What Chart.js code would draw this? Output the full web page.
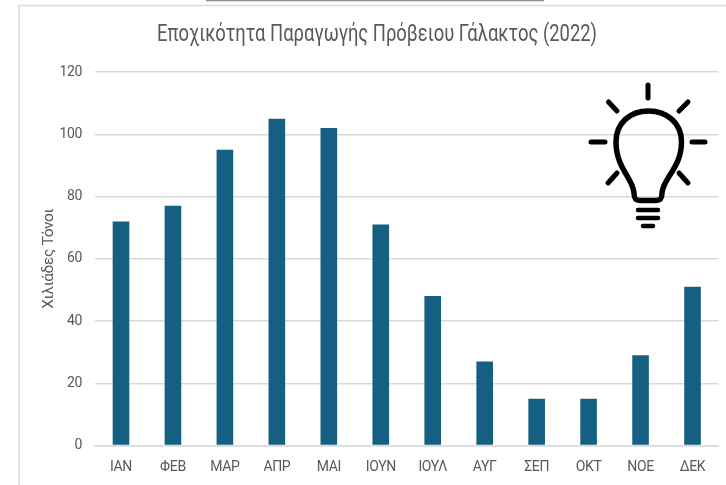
<!DOCTYPE html>
<html lang="el">
<head>
<meta charset="utf-8">
<title>Εποχικότητα Παραγωγής Πρόβειου Γάλακτος (2022)</title>
<script src="https://cdn.jsdelivr.net/npm/chart.js@4"></script>
<style>
  html, body { margin: 0; padding: 0; background: #fff; }
  #wrap { width: 726px; height: 485px; }
</style>
</head>
<body>
<div id="wrap"><canvas id="chart" width="726" height="485"></canvas></div>
<script>
// Δεδομένα
const months = ['ΙΑΝ', 'ΦΕΒ', 'ΜΑΡ', 'ΑΠΡ', 'ΜΑΙ', 'ΙΟΥΝ', 'ΙΟΥΛ', 'ΑΥΓ', 'ΣΕΠ', 'ΟΚΤ', 'ΝΟΕ', 'ΔΕΚ'];
const production = [72, 77, 95, 105, 102, 71, 48, 27, 15, 15, 29, 51];
const titleText = 'Εποχικότητα Παραγωγής Πρόβειου Γάλακτος (2022)';
const yAxisTitle = 'Χιλιάδες Τόνοι';

const FONT = 'Roboto, sans-serif';

// Πλαίσιο, στενός τίτλος και λάμπα (διακοσμητικά)
const decorations = {
  id: 'decorations',
  beforeDraw(chart) {
    const ctx = chart.ctx;
    ctx.save();
    ctx.strokeStyle = '#dcdcdc';
    ctx.lineWidth = 1.5;
    ctx.beginPath();
    ctx.moveTo(726, 5.5);
    ctx.lineTo(19, 5.5);
    ctx.lineTo(19, 485);
    ctx.stroke();
    ctx.strokeStyle = '#8c8c8c';
    ctx.beginPath();
    ctx.moveTo(206, 0.5);
    ctx.lineTo(544, 0.5);
    ctx.stroke();
    ctx.restore();
    // οι ετικέτες του πρωτοτύπου είναι πιο στενές
    ctx.letterSpacing = '-0.35px';
  },
  afterDraw(chart) {
    const ctx = chart.ctx;
    ctx.letterSpacing = '0px';
    ctx.save();
    ctx.translate(377, 35);
    ctx.scale(0.8, 1);
    ctx.font = '23px ' + FONT;
    ctx.fillStyle = '#595959';
    ctx.textAlign = 'center';
    ctx.textBaseline = 'middle';
    ctx.fillText(titleText, 0, 0);
    ctx.restore();

    ctx.save();
    ctx.translate(570, 70);
    ctx.strokeStyle = '#000';
    ctx.lineCap = 'round';
    ctx.lineJoin = 'round';
    ctx.lineWidth = 5;
    // ακτίνες
    const rays = [[78, 15, 78, 28], [38.5, 32, 47, 41], [118, 32, 109, 41], [21, 72, 35, 72], [122, 72, 135, 72], [38, 113, 47, 103], [118, 113, 109, 103]];
    ctx.beginPath();
    rays.forEach(r => { ctx.moveTo(r[0], r[1]); ctx.lineTo(r[2], r[3]); });
    ctx.stroke();
    // γλόμπος
    ctx.lineWidth = 5.5;
    ctx.beginPath();
    ctx.moveTo(70, 130.5);
    ctx.bezierCurveTo(65, 130.5, 64, 128, 64, 123);
    ctx.bezierCurveTo(63, 108, 46, 98, 46, 72);
    ctx.bezierCurveTo(46, 53, 60, 41, 78.5, 41);
    ctx.bezierCurveTo(97, 41, 111.5, 53, 111.5, 72);
    ctx.bezierCurveTo(111.5, 98, 93, 108, 92, 123);
    ctx.bezierCurveTo(92, 128, 91, 130.5, 86, 130.5);
    ctx.closePath();
    ctx.stroke();
    // βάση
    ctx.lineWidth = 4.5;
    ctx.beginPath();
    ctx.moveTo(68, 140); ctx.lineTo(88, 140);
    ctx.moveTo(68, 148); ctx.lineTo(88, 148);
    ctx.moveTo(73, 156); ctx.lineTo(83, 156);
    ctx.stroke();
    ctx.restore();
  }
};

new Chart(document.getElementById('chart'), {
  type: 'bar',
  data: {
    labels: months,
    datasets: [{
      data: production,
      backgroundColor: '#156082',
      barPercentage: 0.32,
      categoryPercentage: 1
    }]
  },
  options: {
    responsive: false,
    animation: false,
    layout: { padding: { left: 40, right: 7.5, top: 72, bottom: 0 } },
    plugins: {
      legend: { display: false },
      tooltip: { enabled: false },
      title: { display: false }
    },
    scales: {
      x: {
        afterFit(scale) { scale.height = 39.5; },
        grid: { display: false },
        border: { color: '#d9d9d9', width: 1.5 },
        ticks: { color: '#595959', font: { family: FONT, size: 14 }, padding: 6, maxRotation: 0, autoSkip: false }
      },
      y: {
        min: 0,
        max: 120,
        afterFit(scale) { scale.width = 55; },
        grid: { color: '#d9d9d9', lineWidth: 1.5, drawTicks: false },
        border: { display: false },
        ticks: { stepSize: 20, color: '#595959', font: { family: FONT, size: 14 }, padding: 13 },
        title: {
          display: true,
          text: yAxisTitle,
          color: '#595959',
          font: { family: FONT, size: 15.5, weight: 'normal' },
          padding: 0
        }
      }
    }
  },
  plugins: [decorations]
});
</script>
</body>
</html>
